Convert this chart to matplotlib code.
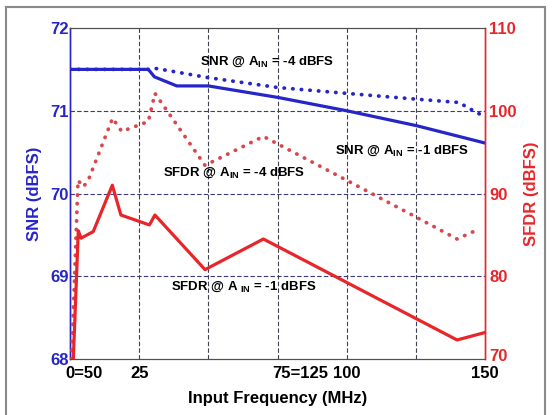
import matplotlib
matplotlib.use("Agg")
import matplotlib.pyplot as plt
import matplotlib.transforms as mtransforms

plt.rcParams['font.family'] = ['Liberation Sans', 'DejaVu Sans']
plt.rcParams['font.weight'] = 'bold'
plt.rcParams['mathtext.fontset'] = 'custom'
plt.rcParams['mathtext.rm'] = 'Liberation Sans:bold'
plt.rcParams['mathtext.bf'] = 'Liberation Sans:bold'
plt.rcParams['mathtext.default'] = 'bf'

# ---- data ----
snr1_x = [0, 28.3, 30.5, 38.6, 50, 75.3, 100, 125.2, 150]
snr1_y = [71.5, 71.5, 71.41, 71.30, 71.30, 71.16, 71.0, 70.82, 70.61]

snr4_x = [0, 28.3, 31.3, 50, 75.3, 100, 125.2, 140.6, 144.2, 148.6]
snr4_y = [71.5, 71.5, 71.51, 71.4, 71.28, 71.21, 71.14, 71.10, 71.03, 70.95]

sfdr1_x = [1.2, 3.0, 4.0, 8.4, 15.3, 18.4, 28.7, 30.7, 48.8, 69.9, 139.9, 150]
sfdr1_y = [70.0, 85.5, 84.6, 85.4, 91.0, 87.4, 86.2, 87.4, 80.8, 84.5, 72.3, 73.2]

sfdr4_x = [0.6, 2.9, 4.8, 6.6, 15.4, 18.7, 28.3, 30.7, 48.8, 69.9, 100, 124.8, 139.9, 147.8]
sfdr4_y = [70.0, 91.6, 90.8, 91.6, 99.1, 97.5, 98.7, 102.1, 93.4, 96.9, 91.6, 87.2, 84.5, 85.7]

x_ticks = [0, 25, 50, 75, 100, 125, 150]
x_labels = ["0=50", "25", "", "75=125", "100", "", "150"]
snr_ticks = [68, 69, 70, 71, 72]
sfdr_ticks = [70, 80, 90, 100, 110]

BLUE = '#2626c8'
RED = '#e8262a'
RED_DOT = '#d9474d'

fig = plt.figure(figsize=(5.57, 4.15), dpi=100)
ax = fig.add_axes([70/557, 1-359/415, 415/557, 331/415])
ax2 = ax.twinx()

# outer frame
for (xs, ys) in [([6/557, 6/557], [0, 1-7/415]), ([6/557, 545/557], [1-7/415, 1-7/415]),
                 ([545/557, 545/557], [1-7/415, 0])]:
    fig.add_artist(plt.Line2D(xs, ys, color='#8a8a8a', lw=1.5, transform=fig.transFigure))

# grid
for yv in snr_ticks[1:-1]:
    ax.axhline(yv, color='#3a3a80', lw=0.8, ls=(0, (4, 2)), zorder=1)
for xv in x_ticks[1:-1]:
    ax.axvline(xv, color='#404050', lw=0.8, ls=(0, (4, 2)), zorder=1)

ax.plot(snr4_x, snr4_y, color=BLUE, lw=2.7, ls=(0, (0.1, 2.2)), dash_capstyle='round', zorder=3)
ax.plot(snr1_x, snr1_y, color=BLUE, lw=2.3, zorder=4)
ax2.plot(sfdr4_x, sfdr4_y, color=RED_DOT, lw=2.7, ls=(0, (0.1, 2.2)), dash_capstyle='round', zorder=3)
ax2.plot(sfdr1_x, sfdr1_y, color=RED, lw=2.3, zorder=4)

ax.set_xlim(0, 150)
ax.set_ylim(68, 72)
ax2.set_ylim(70, 110)

ax.set_xticks(x_ticks)
ax.set_xticklabels(x_labels)
ax.set_yticks(snr_ticks)
ax2.set_yticks(sfdr_ticks)

ax.tick_params(axis='x', length=0, pad=5, labelsize=12, labelcolor='black')
ax.tick_params(axis='y', length=0, pad=1, labelsize=12, labelcolor=BLUE)
ax2.tick_params(axis='y', length=0, pad=3, labelsize=12, labelcolor=RED)

offset = mtransforms.ScaledTranslation(-5/100, 0, fig.dpi_scale_trans)
for lab in ax.get_xticklabels():
    if '=' in lab.get_text():
        lab.set_horizontalalignment('left')
        lab.set_transform(lab.get_transform() + offset)

up = mtransforms.ScaledTranslation(0, 4/100, fig.dpi_scale_trans)
for lab in ax2.get_yticklabels():
    if lab.get_text() == '70':
        lab.set_transform(lab.get_transform() + up)

ax.set_xlabel("Input Frequency (MHz)", fontsize=12, fontweight='bold', labelpad=7)
ax.set_ylabel("SNR (dBFS)", fontsize=12, fontweight='bold', color=BLUE, labelpad=6)
ax2.set_ylabel("SFDR (dBFS)", fontsize=12, fontweight='bold', color=RED, labelpad=5)

for a in (ax, ax2):
    a.spines['top'].set_color('#505050')
    a.spines['bottom'].set_color('#505050')
    a.spines['left'].set_color(BLUE)
    a.spines['right'].set_color(RED)
    a.spines['left'].set_linewidth(1.0)
    a.spines['right'].set_linewidth(1.0)

fs = 9.5
ax.text(71.4, 71.59, r"SNR @ A$_{IN}$ = -4 dBFS", fontsize=fs, ha='center', va='center', zorder=6)
ax.text(120.0, 70.52, r"SNR @ A$_{IN}$ = -1 dBFS", fontsize=fs, ha='center', va='center', zorder=6)
ax.text(59.4, 70.25, r"SFDR @ A$_{IN}$ = -4 dBFS", fontsize=fs, ha='center', va='center', zorder=6)
ax.text(62.9, 68.87, r"SFDR @ A$_{\ IN}$ = -1 dBFS", fontsize=fs, ha='center', va='center', zorder=6)

fig.savefig("out.png", dpi=100)
